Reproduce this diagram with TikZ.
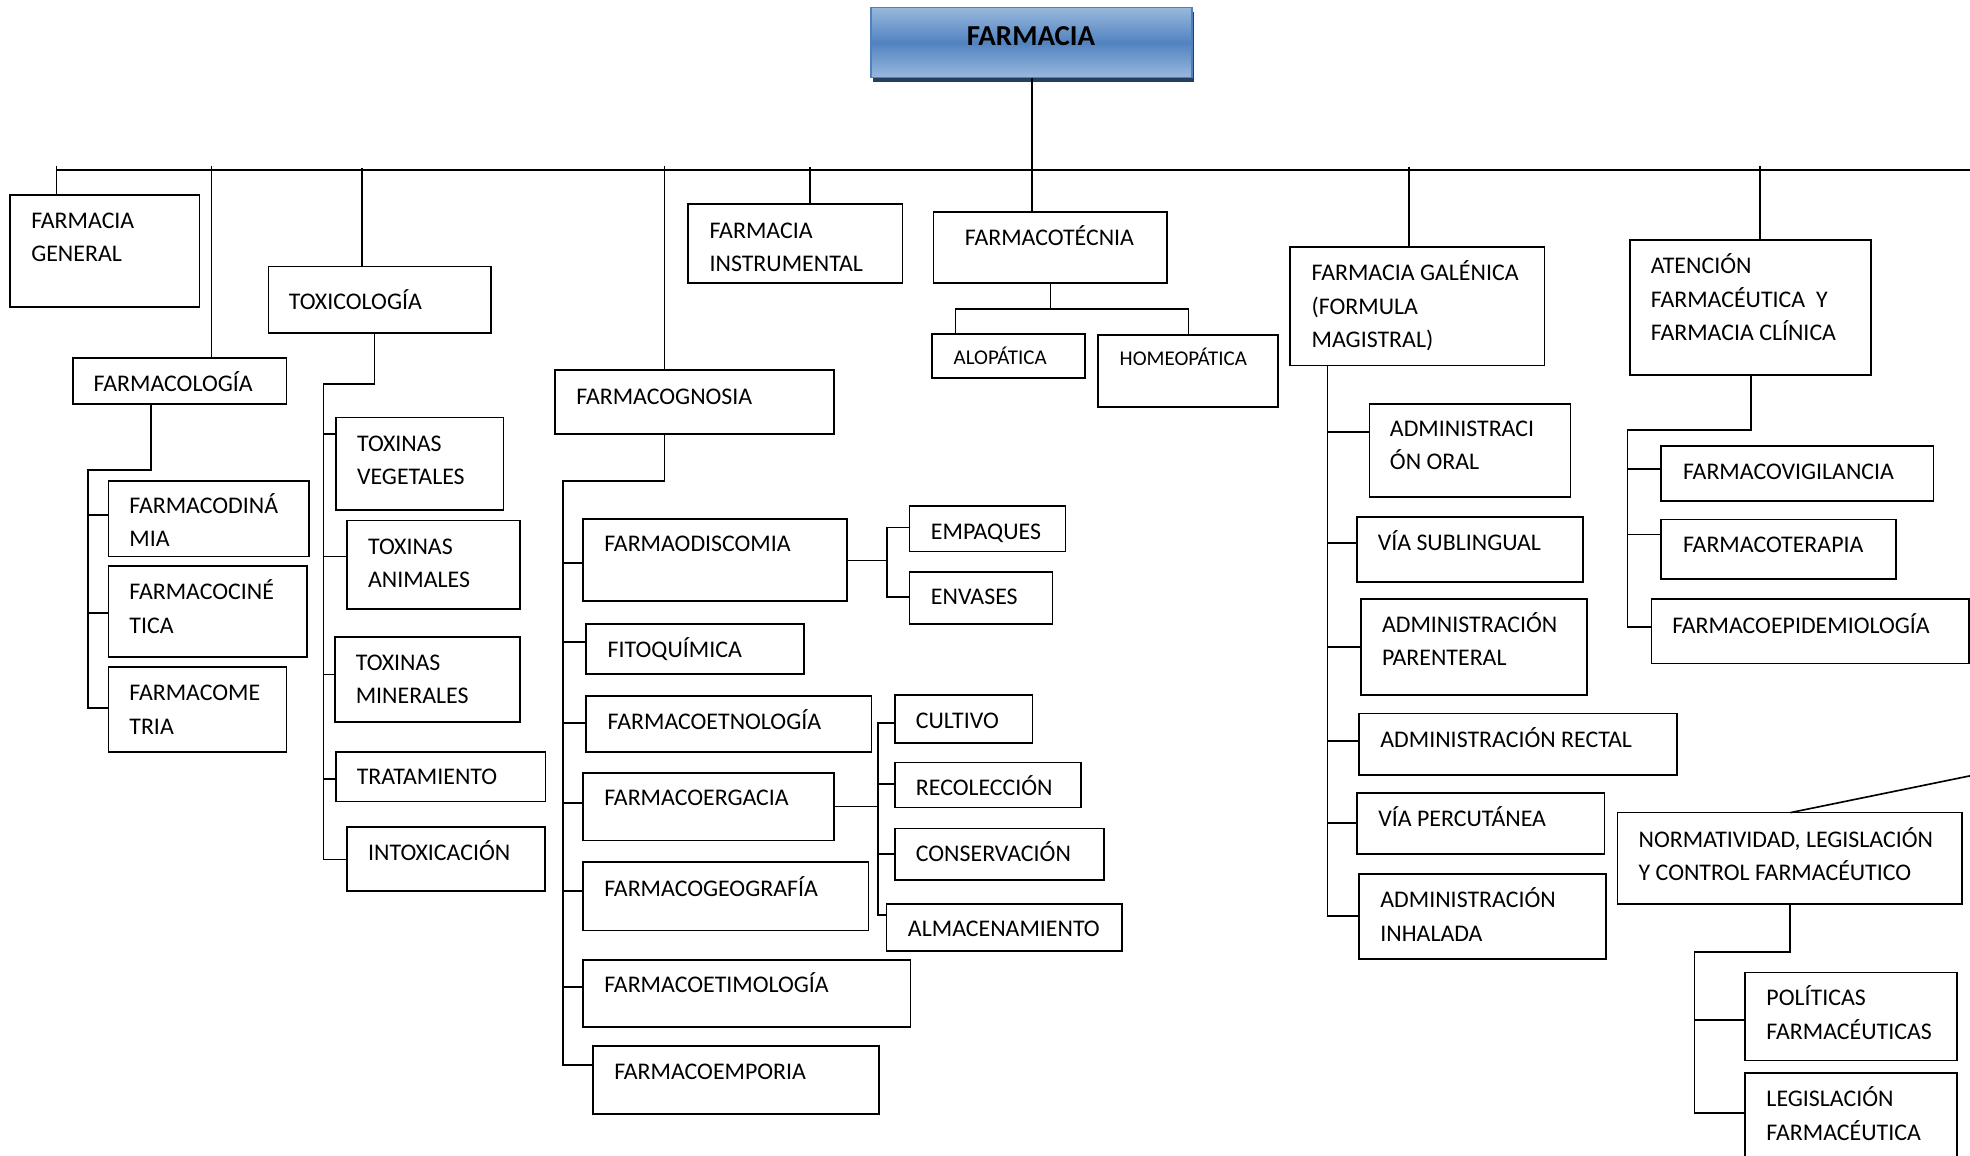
\documentclass[tikz,border=0pt]{standalone}
\usepackage{fontspec}
\setmainfont{Carlito}
\usetikzlibrary{shadows}
\definecolor{tlight}{RGB}{153,184,222}
\definecolor{tmid}{RGB}{82,131,192}
\definecolor{tborder}{RGB}{79,129,189}
\definecolor{tshadow}{RGB}{36,63,96}
\tikzset{
  bx/.style={draw=black, line width=1.35pt, fill=white, inner sep=0pt, outer sep=0pt, anchor=north west},
  lbl/.style={font=\fontsize{19}{26.6}\selectfont, inner sep=0pt, outer sep=0pt, align=left, anchor=base west},
  slbl/.style={lbl, font=\fontsize{16.7}{22}\selectfont},
  conn/.style={draw=black, line width=1.3pt},
  titlebox/.style={draw=tborder, line width=1.2pt, top color=tlight, bottom color=tlight, middle color=tmid,
    general shadow={fill=tshadow, shadow xshift=1.6pt, shadow yshift=-3.7pt},
    minimum width=255.8pt, minimum height=56pt, inner sep=0pt, outer sep=0pt},
}
\newcommand\mybox[5]{\node[bx, minimum width={#4-#2}, minimum height={#5-#3}] (#1) at (#2,#3) {};}
% #3 = baseline of the LAST line of the label
\newcommand\mylbl[4]{\node[lbl] (#1) at (#2,#3) {#4};}
\begin{document}
\begin{tikzpicture}[x=1pt,y=-1pt]
\useasboundingbox[fill=white] (0,0) rectangle (1568,920);

% ---------- title ----------
\node[titlebox] (title) at (821,33.8) {};
\node[font=\fontsize{23}{27}\selectfont\bfseries, inner sep=0pt, anchor=base] (titlet) at (820.6,36.6) {FARMACIA};

% ---------- boxes ----------
\mybox{fgen}{8.2}{155}{158.8}{244.3}
\mybox{fcol}{57.9}{285.2}{228.1}{321.6}
\mybox{ftox}{213.6}{212.2}{390.8}{264.8}
\mybox{fgno}{442}{294.5}{663.8}{345.7}
\mybox{finst}{547.8}{162.1}{718.4}{225}
\mybox{ftec}{743}{169}{929}{225}
\mybox{fgal}{1026.5}{196.6}{1229.3}{290.8}
\mybox{faten}{1297.4}{191}{1489.2}{298.2}
\mybox{fdin}{86.4}{383}{246}{443}
\mybox{fcin}{86.4}{450.5}{244.5}{522.7}
\mybox{fmet}{86.4}{531.1}{228.1}{598.5}
\mybox{tveg}{267.5}{332.4}{400.8}{406}
\mybox{tani}{276.4}{414.4}{414}{484.7}
\mybox{tmin}{266.5}{507}{414}{574.4}
\mybox{ttra}{267.5}{598.3}{434.2}{638}
\mybox{tint}{276}{658}{434}{709}
\mybox{fdis}{464}{413}{674}{478.5}
\mybox{emp}{724}{403}{848}{439}
\mybox{env}{724}{455}{837.6}{496.7}
\mybox{fito}{466.6}{496.6}{640}{536.5}
\mybox{fetn}{466.6}{554.2}{693.6}{598.3}
\mybox{cult}{712.2}{552.9}{821.8}{591.4}
\mybox{reco}{712.2}{607}{860.2}{642.8}
\mybox{ferg}{464}{615}{663.8}{669}
\mybox{cons}{712.2}{659.5}{878.7}{700.4}
\mybox{fgeo}{464}{686}{691.2}{740.5}
\mybox{alma}{705.7}{719.5}{892.8}{756.7}
\mybox{fetim}{464}{764}{724.7}{817.2}
\mybox{femp}{471.8}{832.5}{699.6}{886.4}
\mybox{alop}{742}{265.6}{863.8}{300.6}
\mybox{homeo}{874.2}{266.6}{1017}{324.2}
\mybox{aoral}{1090}{321.5}{1250}{395.6}
\mybox{asub}{1080}{411.7}{1260}{463}
\mybox{apar}{1083}{476.5}{1263}{553}
\mybox{arec}{1081.5}{568}{1335}{617}
\mybox{aper}{1080}{631}{1277}{680}
\mybox{ainh}{1081.5}{695.6}{1278}{763.4}
\mybox{fvig}{1322}{355}{1539}{398.8}
\mybox{fter}{1322}{413.6}{1509}{461}
\mybox{fepi}{1314.5}{477}{1567}{528}
\mybox{norm}{1287.5}{646.8}{1561.5}{719.5}
\mybox{pol}{1388.7}{774}{1557.6}{844}
\mybox{leg}{1388.7}{853.8}{1557.6}{925}

% ---------- labels ----------
\mylbl{fgent}{24.9}{208.3}{FARMACIA\\GENERAL}
\mylbl{fcolt}{74.6}{312}{FARMACOLOGÍA}
\mylbl{ftoxt}{230}{246.7}{TOXICOLOGÍA}
\mylbl{fgnot}{458.8}{321.6}{FARMACOGNOSIA}
\mylbl{finstt}{564.8}{216.2}{FARMACIA\\INSTRUMENTAL}
\mylbl{ftect}{768}{195.8}{FARMACOTÉCNIA}
\mylbl{fgalt}{1044}{276.7}{FARMACIA GALÉNICA\\(FORMULA\\MAGISTRAL)}
\mylbl{fatent}{1314}{271.2}{ATENCIÓN\\FARMACÉUTICA\ \ Y\\FARMACIA CLÍNICA}
\mylbl{fdint}{103}{435}{FARMACODINÁ\\MIA}
\mylbl{fcint}{103}{504}{FARMACOCINÉ\\TICA}
\mylbl{fmett}{103}{584.4}{FARMACOME\\TRIA}
\mylbl{tvegt}{284.2}{386}{TOXINAS\\VEGETALES}
\mylbl{tanit}{293}{468}{TOXINAS\\ANIMALES}
\mylbl{tmint}{283.2}{560.3}{TOXINAS\\MINERALES}
\mylbl{ttrat}{284}{624.8}{TRATAMIENTO}
\mylbl{tintt}{293}{685}{INTOXICACIÓN}
\mylbl{fdist}{481}{439}{FARMAODISCOMIA}
\mylbl{empt}{741}{429.3}{EMPAQUES}
\mylbl{envt}{741}{481}{ENVASES}
\mylbl{fitot}{483.7}{523.2}{FITOQUÍMICA}
\mylbl{fetnt}{483.7}{580.5}{FARMACOETNOLOGÍA}
\mylbl{cultt}{729}{579.7}{CULTIVO}
\mylbl{recot}{729}{632.8}{RECOLECCIÓN}
\mylbl{fergt}{481}{641.3}{FARMACOERGACIA}
\mylbl{const}{729}{685.8}{CONSERVACIÓN}
\mylbl{fgeot}{481}{713.2}{FARMACOGEOGRAFÍA}
\mylbl{almat}{722.7}{745.5}{ALMACENAMIENTO}
\mylbl{fetimt}{481}{789.8}{FARMACOETIMOLOGÍA}
\mylbl{fempt}{488.9}{859.6}{FARMACOEMPORIA}
\node[slbl] (alopt) at (759,290.5) {ALOPÁTICA};
\node[slbl] (homeot) at (891.2,291) {HOMEOPÁTICA};
\mylbl{aoralt}{1106.3}{374}{ADMINISTRACI\\ÓN ORAL}
\mylbl{asubt}{1096.6}{438.3}{VÍA SUBLINGUAL}
\mylbl{apart}{1100}{529.8}{ADMINISTRACIÓN\\PARENTERAL}
\mylbl{arect}{1098.7}{594.8}{ADMINISTRACIÓN RECTAL}
\mylbl{apert}{1097}{658}{VÍA PERCUTÁNEA}
\mylbl{ainht}{1098.7}{749}{ADMINISTRACIÓN\\INHALADA}
\mylbl{fvigt}{1339.6}{381.5}{FARMACOVIGILANCIA}
\mylbl{ftert}{1339.6}{439.9}{FARMACOTERAPIA}
\mylbl{fepit}{1331}{504.6}{FARMACOEPIDEMIOLOGÍA}
\mylbl{normt}{1304.3}{701}{NORMATIVIDAD, LEGISLACIÓN\\Y CONTROL FARMACÉUTICO}
\mylbl{polt}{1406}{827.2}{POLÍTICAS\\FARMACÉUTICAS}
\mylbl{legt}{1406}{907.4}{LEGISLACIÓN\\FARMACÉUTICA}

% ---------- main bus ----------
\coordinate (busL) at (45.1,135.3);
\coordinate (busR) at (1572,135.3);
\draw[conn] (busL) -- (busR);
\coordinate (d1) at (45.1,132);
\coordinate (d2) at (168.4,132);
\coordinate (d3) at (288.2,134);
\coordinate (d4) at (529,132);
\coordinate (d5) at (644.7,133);
\coordinate (d6) at (821.5,134);
\coordinate (d7) at (1121.5,133);
\coordinate (d8) at (1400.7,132);
\draw[conn] (d1) -- (d1 |- fgen.north);
\draw[conn] (d2) -- (d2 |- fcol.north);
\draw[conn] (d3) -- (d3 |- ftox.north);
\draw[conn] (d4) -- (d4 |- fgno.north);
\draw[conn] (d5) -- (d5 |- finst.north);
\draw[conn] (d6 |- title.south) -- (d6 |- ftec.north);
\draw[conn] (d7) -- (d7 |- fgal.north);
\draw[conn] (d8) -- (d8 |- faten.north);

% ---------- farmacologia ----------
\coordinate (colJ) at (120.1,374);
\coordinate (colT) at (70,374);
\coordinate (colB) at (70,563.5);
\draw[conn] (colJ |- fcol.south) -- (colJ) -- (colT) -- (colB) -- (fmet.west |- colB);
\draw[conn] (colT |- 0,410) -- (fdin.west |- 0,410);
\draw[conn] (colT |- 0,488) -- (fcin.west |- 0,488);

% ---------- toxicologia ----------
\coordinate (toxJ) at (298,305.5);
\coordinate (toxT) at (257.6,305.5);
\coordinate (toxB) at (257.6,684);
\draw[conn] (toxJ |- ftox.south) -- (toxJ) -- (toxT) -- (toxB) -- (tint.west |- toxB);
\draw[conn] (toxT |- 0,345.5) -- (tveg.west |- 0,345.5);
\draw[conn] (toxT |- 0,443) -- (tani.west |- 0,443);
\draw[conn] (toxT |- 0,537) -- (tmin.west |- 0,537);
\draw[conn] (toxT |- 0,620) -- (ttra.west |- 0,620);

% ---------- farmacognosia ----------
\coordinate (gnoJ) at (529,383);
\coordinate (gnoT) at (448.1,383);
\coordinate (gnoB) at (448.1,847.7);
\draw[conn] (gnoJ |- fgno.south) -- (gnoJ) -- (gnoT) -- (gnoB) -- (femp.west |- gnoB);
\draw[conn] (gnoT |- 0,448) -- (fdis.west |- 0,448);
\draw[conn] (gnoT |- 0,511) -- (fito.west |- 0,511);
\draw[conn] (gnoT |- 0,575.6) -- (fetn.west |- 0,575.6);
\draw[conn] (gnoT |- 0,639) -- (ferg.west |- 0,639);
\draw[conn] (gnoT |- 0,709) -- (fgeo.west |- 0,709);
\draw[conn] (gnoT |- 0,785.6) -- (fetim.west |- 0,785.6);

% empaques / envases
\coordinate (ebT) at (706,420);
\coordinate (ebB) at (706,475.4);
\draw[conn] (fdis.east |- 0,446) -- (ebT |- 0,446);
\draw[conn] (emp.west |- ebT) -- (ebT) -- (ebB) -- (env.west |- ebB);

% cultivo ... almacenamiento
\coordinate (cbT) at (699,575.5);
\coordinate (cbB) at (699,728.5);
\draw[conn] (ferg.east |- 0,642) -- (cbT |- 0,642);
\draw[conn] (cult.west |- cbT) -- (cbT) -- (cbB) -- (alma.west |- cbB);
\draw[conn] (cbT |- 0,624) -- (reco.west |- 0,624);
\draw[conn] (cbT |- 0,679.7) -- (cons.west |- 0,679.7);

% ---------- farmacotecnia ----------
\coordinate (tecJ) at (836,246);
\coordinate (tecL) at (760.5,246);
\coordinate (tecR) at (946,246);
\draw[conn] (tecJ |- ftec.south) -- (tecJ);
\draw[conn] (alop.north -| tecL) -- (tecL) -- (tecR) -- (homeo.north -| tecR);

% ---------- farmacia galenica ----------
\coordinate (galB) at (1056.6,729);
\draw[conn] (galB |- fgal.south) -- (galB) -- (ainh.west |- galB);
\draw[conn] (galB |- 0,343.6) -- (aoral.west |- 0,343.6);
\draw[conn] (galB |- 0,432) -- (asub.west |- 0,432);
\draw[conn] (galB |- 0,515) -- (apar.west |- 0,515);
\draw[conn] (galB |- 0,590) -- (arec.west |- 0,590);
\draw[conn] (galB |- 0,654.8) -- (aper.west |- 0,654.8);

% ---------- atencion ----------
\coordinate (atJ) at (1393.7,342);
\coordinate (atT) at (1295.5,342);
\coordinate (atB) at (1295.5,499);
\draw[conn] (atJ |- faten.south) -- (atJ) -- (atT) -- (atB) -- (fepi.west |- atB);
\draw[conn] (atT |- 0,373.5) -- (fvig.west |- 0,373.5);
\draw[conn] (atT |- 0,425.5) -- (fter.west |- 0,425.5);

% ---------- normatividad ----------
\coordinate (normIn) at (1575,616.1);
\coordinate (normTop) at (1425,0);
\draw[conn] (normIn) -- (norm.north -| normTop);
\coordinate (nJ) at (1424.5,757.5);
\coordinate (nT) at (1348.8,757.5);
\coordinate (nB) at (1348.8,886);
\draw[conn] (nJ |- norm.south) -- (nJ) -- (nT) -- (nB) -- (leg.west |- nB);
\draw[conn] (nT |- 0,812) -- (pol.west |- 0,812);
\end{tikzpicture}
\end{document}
